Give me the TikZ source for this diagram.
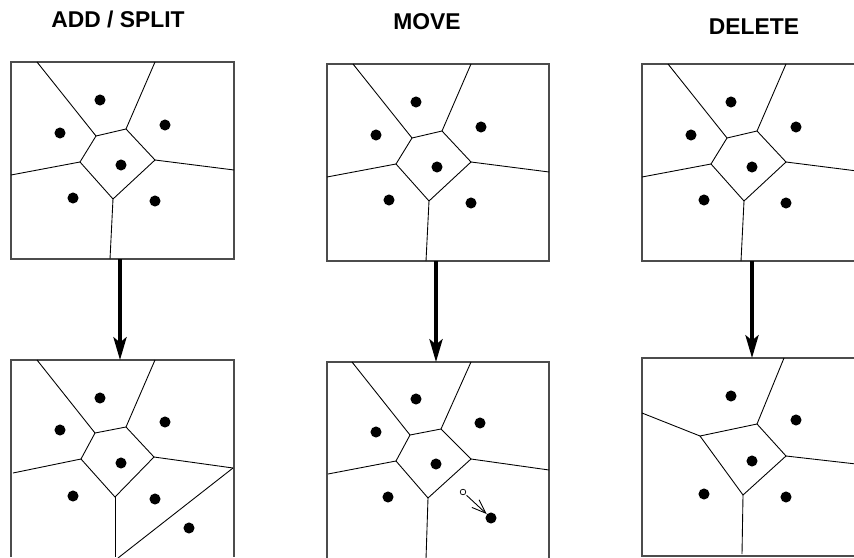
\documentclass[tikz,border=0pt]{standalone}
\usepackage{fontspec}
\newfontfamily\titlefont{Liberation Sans}
\usetikzlibrary{arrows.meta}

\begin{document}
\begin{tikzpicture}[x=0.02cm,y=-0.02cm,
  ele/.style={fill=black,circle,minimum size=6.3pt,inner sep=0pt},
  gone/.style={draw,fill=white,circle,minimum size=3.2pt,inner sep=0pt,line width=0.4pt},
  frame/.style={draw=black!70,line width=0.8pt},
  cell/.style={line width=0.5pt},
  title/.style={font=\titlefont\bfseries\fontsize{13}{15}\selectfont},
  step arrow/.style={-{Stealth[length=13pt,width=7.5pt,inset=3pt]},line width=1.9pt}]
\clip (0,0) rectangle (854,557);

\node[title] (t1) at (118,19) {ADD / SPLIT};
\node[title] (t2) at (427,22) {MOVE};
\node[title] (t3) at (754,27) {DELETE};

% top row: the same diagram three times
\begin{scope}[name prefix=ta-]
  \draw[frame] (11,62) rectangle (234,259);
  \coordinate (A) at (96,136); \coordinate (B) at (126,129); \coordinate (C) at (155,160);
  \coordinate (D) at (113,199); \coordinate (E) at (80,162);
  \draw[cell] (A) -- (B) -- (C) -- (D) -- (E) -- cycle;
  \draw[cell] (A) -- (37,62); \draw[cell] (B) -- (155,62); \draw[cell] (C) -- (234,170);
  \draw[cell] (D) -- (110,259); \draw[cell] (E) -- (11,175);
  \node[ele] (s1) at (100,100) {}; \node[ele] (s2) at (60,133) {};
  \node[ele] (s3) at (165,125) {}; \node[ele] (s4) at (121,165) {};
  \node[ele] (s5) at (73,198) {};  \node[ele] (s6) at (155,201) {};
  \coordinate (out) at (120,259);
\end{scope}

\begin{scope}[shift={(316,2)},name prefix=tb-]
  \draw[frame] (11,62) rectangle (233,259);
  \coordinate (A) at (96,136); \coordinate (B) at (126,129); \coordinate (C) at (155,160);
  \coordinate (D) at (113,199); \coordinate (E) at (80,162);
  \draw[cell] (A) -- (B) -- (C) -- (D) -- (E) -- cycle;
  \draw[cell] (A) -- (37,62); \draw[cell] (B) -- (155,62); \draw[cell] (C) -- (233,170);
  \draw[cell] (D) -- (110,259); \draw[cell] (E) -- (11,175);
  \node[ele] (s1) at (100,100) {}; \node[ele] (s2) at (60,133) {};
  \node[ele] (s3) at (165,125) {}; \node[ele] (s4) at (121,165) {};
  \node[ele] (s5) at (73,198) {};  \node[ele] (s6) at (155,201) {};
  \coordinate (out) at (120,259);
\end{scope}

\begin{scope}[shift={(631,2)},name prefix=tc-]
  \draw[frame] (11,62) rectangle (234,259);
  \coordinate (A) at (96,136); \coordinate (B) at (126,129); \coordinate (C) at (155,160);
  \coordinate (D) at (113,199); \coordinate (E) at (80,162);
  \draw[cell] (A) -- (B) -- (C) -- (D) -- (E) -- cycle;
  \draw[cell] (A) -- (37,62); \draw[cell] (B) -- (155,62); \draw[cell] (C) -- (234,170);
  \draw[cell] (D) -- (110,259); \draw[cell] (E) -- (11,175);
  \node[ele] (s1) at (100,100) {}; \node[ele] (s2) at (60,133) {};
  \node[ele] (s3) at (165,125) {}; \node[ele] (s4) at (121,165) {};
  \node[ele] (s5) at (73,198) {};  \node[ele] (s6) at (155,201) {};
  \coordinate (out) at (121,259);
\end{scope}

% bottom row
\begin{scope}[shift={(0,298)},name prefix=ba-]
  \draw[frame] (11,259) -- (11,62) -- (234,62) -- (234,259);
  \coordinate (A) at (95,135); \coordinate (B) at (126,129); \coordinate (C) at (154,159);
  \coordinate (D) at (115,199); \coordinate (E) at (81,161); \coordinate (F) at (233,170);
  \draw[cell] (A) -- (B) -- (C) -- (D) -- (E) -- cycle;
  \draw[cell] (A) -- (37,62); \draw[cell] (B) -- (155,62); \draw[cell] (C) -- (F);
  \draw[cell] (D) -- (115,259); \draw[cell] (E) -- (13,175); \draw[cell] (F) -- (118,260);
  \node[ele] (s1) at (100,100) {}; \node[ele] (s2) at (60,132) {};
  \node[ele] (s3) at (165,124) {}; \node[ele] (s4) at (121,165) {};
  \node[ele] (s5) at (73,198) {};  \node[ele] (s6) at (155,201) {};
  \node[ele] (s7) at (189,230) {};
  \coordinate (in) at (120,62);
\end{scope}

\begin{scope}[shift={(316,300)},name prefix=bb-]
  \draw[frame] (11,259) -- (11,62) -- (233,62) -- (233,259);
  \coordinate (A) at (94,135); \coordinate (B) at (125,129); \coordinate (C) at (155,159);
  \coordinate (D) at (112,198); \coordinate (E) at (80,161);
  \draw[cell] (A) -- (B) -- (C) -- (D) -- (E) -- cycle;
  \draw[cell] (A) -- (36,62); \draw[cell] (B) -- (155,62); \draw[cell] (C) -- (233,170);
  \draw[cell] (D) -- (110,259); \draw[cell] (E) -- (12,174);
  \node[ele] (s1) at (100,99) {}; \node[ele] (s2) at (60,132) {};
  \node[ele] (s3) at (164,123) {}; \node[ele] (s4) at (120,164) {};
  \node[ele] (s5) at (72,197) {};
  \node[gone] (old) at (147,192) {};
  \node[ele] (s6) at (175,218) {};
  \draw[cell,-{Straight Barb[length=8pt,width=6pt]},shorten <=1pt] (old) -- (s6);
  \coordinate (in) at (120,62);
\end{scope}

\begin{scope}[shift={(631,296)},name prefix=bc-]
  \draw[frame] (11,62) rectangle (234,260);
  \coordinate (P) at (69,140); \coordinate (Q) at (126,128);
  \coordinate (R) at (155,160); \coordinate (S) at (112,199);
  \draw[cell] (P) -- (Q) -- (R) -- (S) -- cycle;
  \draw[cell] (P) -- (11,117); \draw[cell] (Q) -- (153,62); \draw[cell] (R) -- (234,169);
  \draw[cell] (S) -- (111,258);
  \node[ele] (s1) at (100,100) {}; \node[ele] (s3) at (165,124) {};
  \node[ele] (s4) at (121,165) {}; \node[ele] (s5) at (73,198) {};
  \node[ele] (s6) at (155,201) {};
  \coordinate (in) at (121,62);
\end{scope}

\draw[step arrow] (ta-out) -- (ba-in);
\draw[step arrow] (tb-out) -- (bb-in);
\draw[step arrow] (tc-out) -- (bc-in);
\end{tikzpicture}
\end{document}
